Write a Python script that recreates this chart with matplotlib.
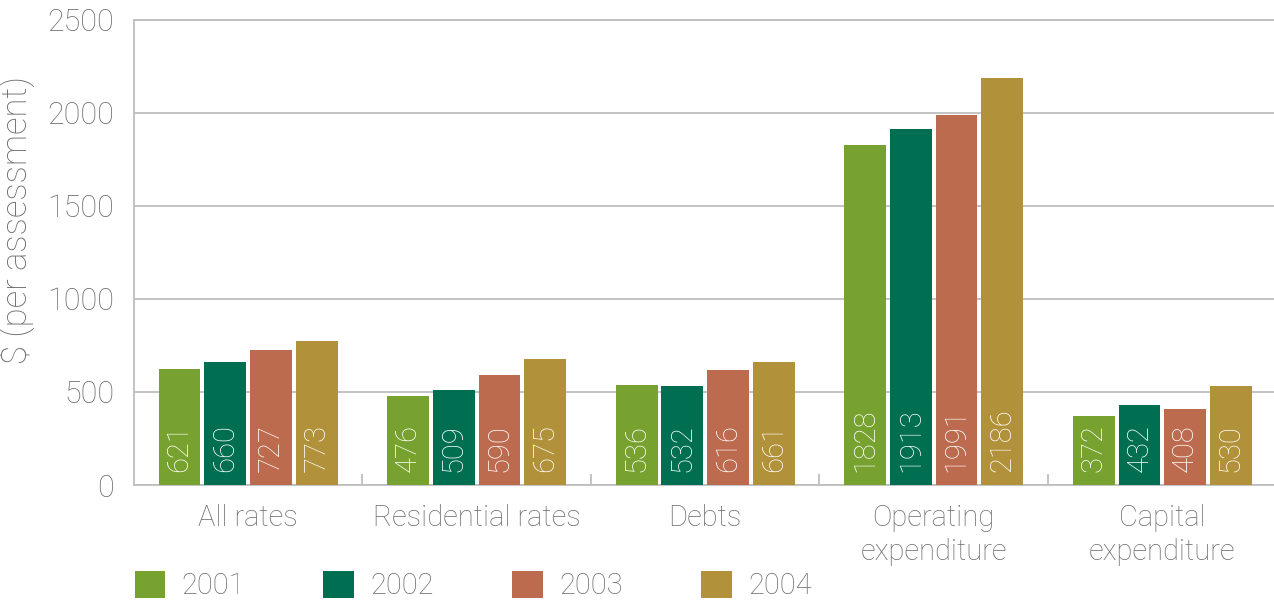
import matplotlib.pyplot as plt
import numpy as np

categories = ['All rates', 'Residential rates', 'Debts', 'Operating\nexpenditure', 'Capital\nexpenditure']
years = ['2001', '2002', '2003', '2004']
v2001 = [621, 476, 536, 1828, 372]
v2002 = [660, 509, 532, 1913, 432]
v2003 = [727, 590, 616, 1991, 408]
v2004 = [773, 675, 661, 2186, 530]
series = [v2001, v2002, v2003, v2004]
colors = ['#78a22f', '#006f51', '#bd6b4f', '#b1923a']

grey = '#6d6e71'
line_grey = '#bcbec0'

plt.rcParams['font.family'] = ['Roboto', 'DejaVu Sans']
plt.rcParams['font.weight'] = 'light'

fig = plt.figure(figsize=(12.74, 6.01), dpi=100)
ax = fig.add_axes([0.105, 0.193, 0.897, 0.774])

x = np.arange(len(categories))
width = 0.183
step = 0.2
for i, (vals, col, yr) in enumerate(zip(series, colors, years)):
    pos = x + (i - 1.5) * step
    ax.bar(pos, vals, width, color=col, label=yr, zorder=3)
    for p, v in zip(pos, vals):
        ax.text(p, 68, str(v), rotation=90, ha='center', va='bottom',
                color='white', fontsize=21, fontweight='light', zorder=4)

ax.set_xlim(-0.5, 4.5)
ax.set_ylim(0, 2500)
ax.set_yticks(np.arange(0, 2501, 500))
ax.yaxis.grid(True, color=line_grey, linewidth=1.3, zorder=0)
ax.set_axisbelow(True)

ax.set_xticks(x)
ax.set_xticklabels(categories, linespacing=1.25)
ax.set_xticks(np.arange(0.5, 4.5, 1), minor=True)
ax.tick_params(axis='x', which='major', length=0, pad=14, labelsize=21, labelcolor=grey)
ax.tick_params(axis='x', which='minor', direction='in', length=8, width=1.3, color=line_grey)
ax.tick_params(axis='y', length=0, pad=14, labelsize=22, labelcolor=grey)

for s in ['left', 'bottom', 'top']:
    ax.spines[s].set_color(line_grey)
    ax.spines[s].set_linewidth(1.3)
ax.spines['right'].set_visible(False)

ax.set_ylabel('$ (per assessment)', fontsize=25, color=grey, fontweight='light')
ax.yaxis.set_label_coords(-0.086, 0.57)

fig.legend(loc='lower left', bbox_to_anchor=(0.085, -0.042), ncol=4, frameon=False,
           fontsize=21, handlelength=1.05, handleheight=1.05, handletextpad=0.55,
           columnspacing=2.7, labelcolor=grey, prop={'weight': 'light', 'size': 21})

fig.savefig('out.png', dpi=100)
